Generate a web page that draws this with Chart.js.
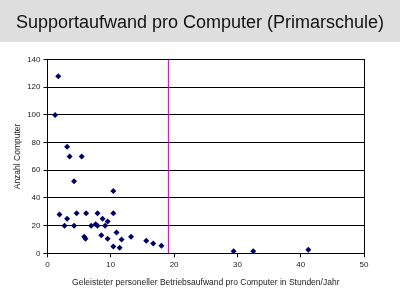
<!DOCTYPE html>
<html>
<head>
<meta charset="utf-8">
<script src="https://cdn.jsdelivr.net/npm/chart.js@4"></script>
<style>
  html, body { margin: 0; padding: 0; background: #fff; }
  #wrap { width: 400px; height: 300px; }
</style>
</head>
<body>
<div id="wrap"><canvas id="chart" width="400" height="300"></canvas></div>
<script>
// hours per computer per year (x) vs number of computers (y)
const hoursPerComputer = [1.2, 1.7, 1.9, 2.7, 3.1, 3.5, 3.1, 4.2, 4.2, 4.6, 5.4, 5.8, 6.0, 6.1,
  6.9, 7.6, 7.9, 7.9, 8.5, 8.7, 9.1, 9.5, 9.5, 10.4, 10.4, 10.4, 10.9, 11.4, 11.7, 13.2,
  15.6, 16.7, 18.0, 29.4, 32.5, 41.2];
const computerCount = [100, 128, 28, 20, 77, 70, 25, 52, 20, 29, 70, 12, 10.5, 29,
  20, 21, 20, 29, 13, 25, 20, 23, 10.5, 45, 29, 5, 15, 4, 10, 12,
  9, 7, 5.5, 1.5, 1.5, 2.5];
const thresholdX = 19.1;
const yTicks = [0, 20, 40, 60, 80, 100, 120, 140];
const xTicks = [0, 10, 20, 30, 40, 50];

const points = hoursPerComputer.map((x, i) => ({ x: x, y: computerCount[i] }));
const thresholdLine = [{ x: thresholdX, y: yTicks[0] }, { x: thresholdX, y: yTicks[yTicks.length - 1] }];

// grey title band + white page
const background = {
  id: 'background',
  beforeDraw(chart) {
    const c = chart.ctx;
    c.save();
    c.fillStyle = '#fff';
    c.fillRect(0, 0, chart.width, chart.height);
    c.fillStyle = '#dedede';
    c.fillRect(0, 0, chart.width, 42);
    c.restore();
  }
};

const tickFont = { family: 'Liberation Sans', size: 8 };

new Chart(document.getElementById('chart'), {
  type: 'scatter',
  data: {
    datasets: [
      {
        data: points,
        pointStyle: 'rectRot',
        pointRadius: 3,
        backgroundColor: '#000066',
        borderColor: '#000066',
        borderWidth: 0
      },
      {
        type: 'line',
        data: thresholdLine,
        borderColor: '#cc00cc',
        borderWidth: 1,
        pointRadius: 0,
        fill: false
      }
    ]
  },
  plugins: [background],
  options: {
    responsive: false,
    animation: false,
    layout: { padding: 0 },
    plugins: {
      legend: { display: false },
      tooltip: { enabled: false },
      title: {
        display: true,
        text: 'Supportaufwand pro Computer (Primarschule)',
        color: '#111',
        font: { family: 'Liberation Sans', size: 18, weight: 'normal' },
        padding: { top: 12, bottom: 26 }
      }
    },
    scales: {
      x: {
        type: 'linear',
        min: xTicks[0],
        max: xTicks[xTicks.length - 1],
        afterBuildTicks: (s) => { s.ticks = xTicks.map(v => ({ value: v })); },
        afterFit: (s) => { s.height = 46.7; },
        border: { display: true, color: '#000', width: 1 },
        grid: { drawOnChartArea: false, tickColor: '#000', tickLength: 4 },
        ticks: { color: '#222', font: tickFont, padding: 3, maxRotation: 0 },
        title: {
          display: true,
          text: 'Geleisteter personeller Betriebsaufwand pro Computer in Stunden/Jahr',
          color: '#222',
          font: { family: 'Liberation Sans', size: 8.5 },
          padding: { top: 0, bottom: 12 }
        }
      },
      y: {
        type: 'linear',
        min: yTicks[0],
        max: yTicks[yTicks.length - 1],
        afterBuildTicks: (s) => { s.ticks = yTicks.map(v => ({ value: v })); },
        afterFit: (s) => { s.width = 47.5; },
        border: { display: true, color: '#000', width: 1 },
        grid: { color: '#000', lineWidth: 1, tickColor: '#000', tickLength: 4 },
        ticks: { color: '#222', font: tickFont, padding: 3 },
        title: {
          display: true,
          text: 'Anzahl Computer',
          color: '#222',
          font: { family: 'Liberation Sans', size: 8.5 },
          padding: { top: 13, bottom: 0 }
        }
      },
      // right frame line only
      yRight: {
        type: 'linear',
        position: 'right',
        min: yTicks[0],
        max: yTicks[yTicks.length - 1],
        afterFit: (s) => { s.width = 36; },
        border: { display: true, color: '#000', width: 1 },
        grid: { drawOnChartArea: false, drawTicks: false },
        ticks: { display: false }
      }
    }
  }
});
</script>
</body>
</html>
